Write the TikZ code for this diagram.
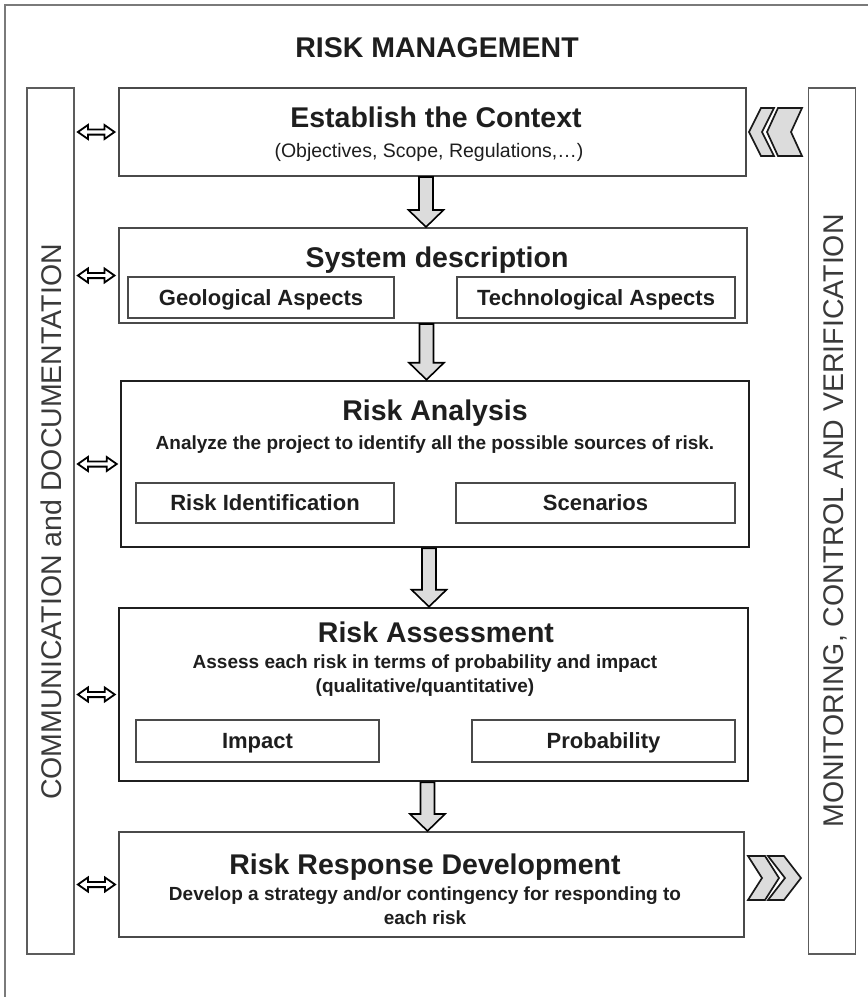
\documentclass[tikz,border=0pt]{standalone}
\usepackage{fontspec}
\setmainfont{Liberation Sans}
\usetikzlibrary{arrows.meta,calc}
\definecolor{framegray}{HTML}{7A7A7A}
\definecolor{linegray}{HTML}{4A4A4A}
\definecolor{fillgray}{HTML}{DCDCDC}
\definecolor{txt}{HTML}{1E1E1E}
\definecolor{bartxt}{HTML}{3A3A3A}
\begin{document}
\begin{tikzpicture}[x=1pt,y=1pt,
  box/.style={draw=linegray, line width=2pt, fill=white, inner sep=0pt},
  boldbox/.style={draw=black!88, line width=2.6pt, fill=white, inner sep=0pt},
  sub/.style={draw=linegray, line width=1.8pt, fill=white, inner sep=0pt,
     font=\fontsize{22}{24}\selectfont\bfseries, text=txt, text height=15.8pt, text depth=0pt},
  bar/.style={draw=linegray!90, line width=1.8pt, inner sep=0pt, minimum width=47pt, minimum height=866pt},
  head/.style={font=\fontsize{28.5}{30}\selectfont\bfseries, text=txt, anchor=base, inner sep=0pt},
  desc/.style={font=\fontsize{19}{21}\selectfont\bfseries, text=txt, anchor=base, inner sep=0pt},
  bartext/.style={font=\fontsize{28.5}{30}\selectfont, text=bartxt, anchor=base, rotate=90, inner sep=0pt},
  dblarrow/.style={draw=black, line width=1.8pt, fill=white, line join=miter},
  blockarrow/.style={draw=black, line width=1.6pt, fill=fillgray, line join=miter},
  chev/.style={draw=black!90, line width=1.7pt, fill=fillgray, line join=miter}
]
\useasboundingbox (0,0) rectangle (868,-997);
\draw[framegray, line width=2pt] (4.5,-997) -- (4.5,-5) -- (868,-5);

% side bars
\node[bar] (leftbar) at (50.5,-521) {};
\node[bar] (rightbar) at (832,-521) {};
\node[bartext] (lbt) at (61,-522) {COMMUNICATION and DOCUMENTATION};
\node[bartext] (rbt) at (843,-521) {MONITORING, CONTROL AND VERIFICATION};

% title
\node[head] (title) at (437,-57) {RISK MANAGEMENT};

% main boxes
\node[box, minimum width=627pt, minimum height=88pt] (est) at (432,-132) {};
\node[box, minimum width=628pt, minimum height=95pt] (sys) at (432.5,-275.5) {};
\node[boldbox, minimum width=628pt, minimum height=166pt] (ana) at (435,-464) {};
\node[boldbox, minimum width=629pt, minimum height=173pt] (ass) at (433.5,-694.5) {};
\node[box, minimum width=625pt, minimum height=105pt] (res) at (431.5,-884.5) {};

% texts
\node[head] (esth) at (436,-127) {Establish the Context};
\node[font=\fontsize{19.5}{21}\selectfont, text=txt, anchor=base, inner sep=0pt] (ests) at (429,-157) {(Objectives, Scope, Regulations,…)};

\node[head] (sysh) at (437,-267) {System description};
\node[sub, minimum width=266pt, minimum height=41pt] (geo) at (261,-297.5) {Geological Aspects};
\node[sub, minimum width=278pt, minimum height=41pt] (tech) at (596,-297.5) {Technological Aspects};

\node[head] (anah) at (435,-420) {Risk Analysis};
\node[desc] (anad) at (435,-449) {Analyze the project to identify all the possible sources of risk.};
\node[sub, minimum width=258pt, minimum height=40pt] (rid) at (265,-503) {Risk Identification};
\node[sub, minimum width=279pt, minimum height=40pt] (scen) at (595.5,-503) {Scenarios};

\node[head] (assh) at (436,-642) {Risk Assessment};
\node[desc] (assd1) at (425,-668) {Assess each risk in terms of probability and impact};
\node[desc] (assd2) at (425,-692) {(qualitative/quantitative)};
\node[sub, minimum width=243pt, minimum height=42pt] (imp) at (257.5,-741) {Impact};
\node[sub, minimum width=263pt, minimum height=42pt] (prob) at (603.5,-741) {Probability};

\node[head] (resh) at (425,-874) {Risk Response Development};
\node[desc] (resd1) at (425,-900) {Develop a strategy and/or contingency for responding to};
\node[desc] (resd2) at (425,-924) {each risk};

% down block arrows
\foreach \a/\b in {est/sys, sys/ana, ana/ass, ass/res}{
  \draw[blockarrow] let \p1=($(\a.south)+(-6,0)$), \p2=($(\b.north)+(-6,0)$) in
    (\x1-7pt,\y1) -- (\x1-7pt,\y2+17pt) -- (\x1-17.5pt,\y2+17pt) -- (\x1,\y2)
    -- (\x1+17.5pt,\y2+17pt) -- (\x1+7pt,\y2+17pt) -- (\x1+7pt,\y1) -- cycle;
}

% double arrows to the communication bar
\foreach \bx in {est, sys, ana, ass, res}{
  \draw[dblarrow] let \p1=(leftbar.east |- \bx.west), \p2=(\bx.west) in
    (\x1+3pt,\y1) -- (\x1+13pt,\y1+7pt) -- (\x1+13pt,\y1+2.6pt) -- (\x2-13pt,\y1+2.6pt)
    -- (\x2-13pt,\y1+7pt) -- (\x2-3pt,\y1) -- (\x2-13pt,\y1-7pt) -- (\x2-13pt,\y1-2.6pt)
    -- (\x1+13pt,\y1-2.6pt) -- (\x1+13pt,\y1-7pt) -- cycle;
}

% chevrons (left-pointing, top)
\coordinate (chevA) at (749,-132);
\coordinate (chevB) at (767,-132);
\draw[chev] (chevA) -- ++(12,24) -- ++(13,0) -- ++(-12,-24) -- ++(12,-24) -- ++(-13,0) -- cycle;
\draw[chev] (chevB) -- ++(11,24) -- ++(24,0) -- ++(-11,-24) -- ++(11,-24) -- ++(-24,0) -- cycle;
% chevrons (right-pointing, bottom)
\coordinate (chevC) at (779,-878);
\coordinate (chevD) at (801,-878);
\draw[chev] (chevC) -- ++(-14,22) -- ++(-17,0) -- ++(14,-22) -- ++(-14,-22) -- ++(17,0) -- cycle;
\draw[chev] (chevD) -- ++(-17,22) -- ++(-16,0) -- ++(17,-22) -- ++(-17,-22) -- ++(16,0) -- cycle;
\end{tikzpicture}
\end{document}
